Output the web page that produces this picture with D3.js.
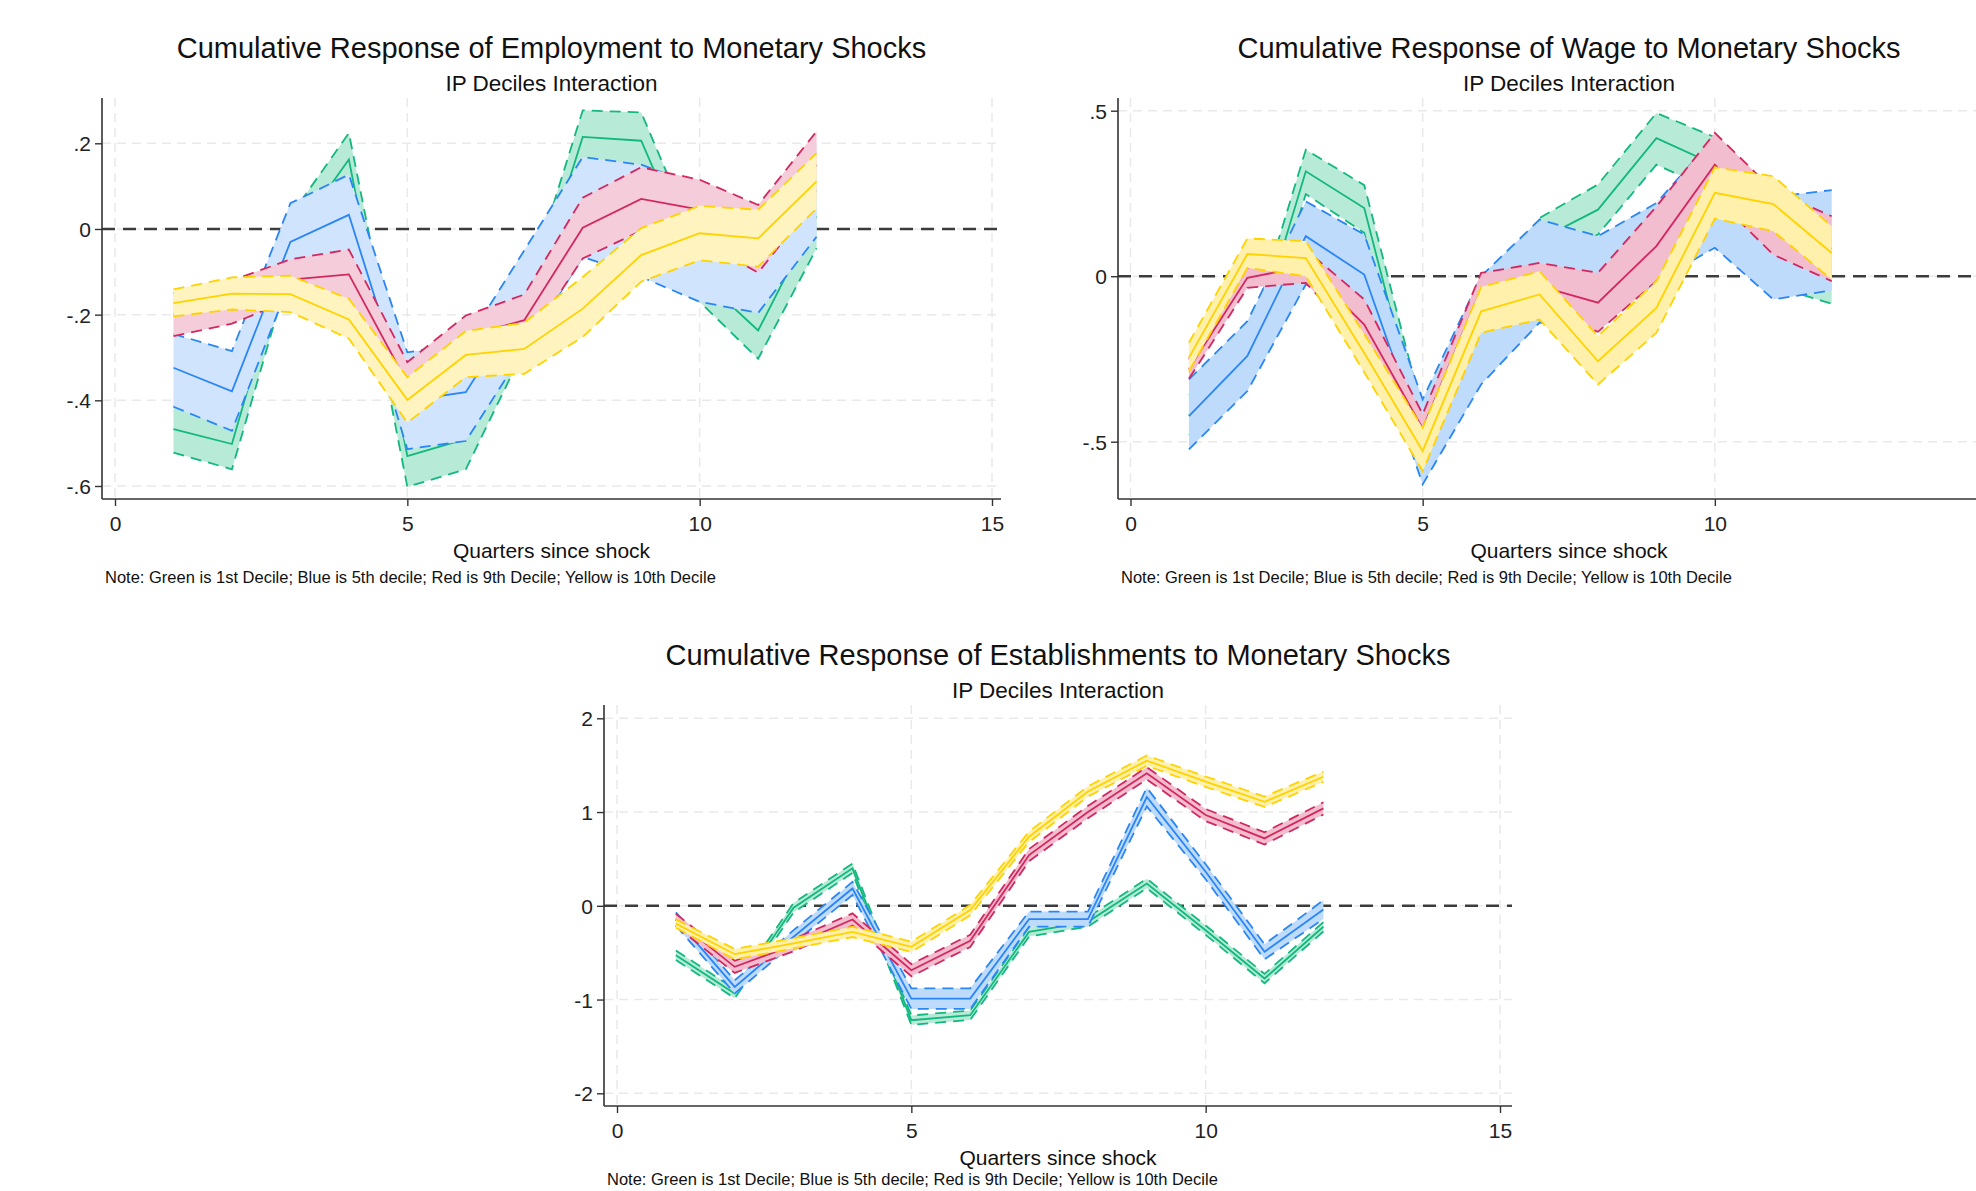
<!DOCTYPE html>
<html lang="en">
<head>
<meta charset="UTF-8">
<title>cumulative responses</title>
<script src="https://cdn.jsdelivr.net/npm/d3@7/dist/d3.min.js"></script>
<style>
	body { margin: 0; background: #fff; overflow: hidden; }
	svg { display: block; font-family: "Liberation Sans", Arial, sans-serif; }
	.grid { stroke: #e9e9e9; stroke-width: 1.5; stroke-dasharray: 9,6; }
	.zero { stroke: #3c3c3c; stroke-width: 2.4; stroke-dasharray: 13,8; }
	.axisline { stroke: #333; stroke-width: 1.6; }
	.tick line { stroke: #333; stroke-width: 1.4; }
	.tick text { font-size: 21px; fill: #222; }
	.title { font-size: 29px; fill: #111; text-anchor: middle; }
	.subtitle { font-size: 22.5px; fill: #111; text-anchor: middle; }
	.xlabel { font-size: 21px; fill: #111; text-anchor: middle; }
	.note { font-size: 16.5px; fill: #111; }
</style>
</head>
<body>
<svg id="fig" width="1976" height="1191"></svg>
<script>
var quarters = [1, 2, 3, 4, 5, 6, 7, 8, 9, 10, 11, 12];
var xTicks = [0, 5, 10, 15];

// Employment
var empTicks = [0.2, 0, -0.2, -0.4, -0.6];
var empLabels = ['.2', '0', '-.2', '-.4', '-.6'];
var empGreen   = [-0.467, -0.502, -0.03, 0.162, -0.530, -0.49, -0.22, 0.215, 0.206, -0.11, -0.237, 0.03];
var empGreenLo = [-0.522, -0.561, -0.09, 0.10, -0.602, -0.561, -0.28, 0.153, 0.14, -0.17, -0.303, -0.045];
var empGreenHi = [-0.412, -0.443, 0.03, 0.224, -0.458, -0.42, -0.16, 0.277, 0.272, -0.05, -0.171, 0.105];
var empBlue   = [-0.324, -0.379, -0.030, 0.033, -0.401, -0.381, -0.166, 0.05, 0.019, -0.035, -0.075, 0.09];
var empBlueLo = [-0.415, -0.471, -0.12, -0.06, -0.514, -0.495, -0.282, -0.065, -0.112, -0.170, -0.196, -0.018];
var empBlueHi = [-0.245, -0.285, 0.060, 0.127, -0.288, -0.267, -0.05, 0.168, 0.15, 0.10, 0.045, 0.2];
var empRed   = [-0.20, -0.17, -0.118, -0.106, -0.36, -0.25, -0.213, 0.003, 0.070, 0.045, -0.023, 0.15];
var empRedLo = [-0.25, -0.221, -0.165, -0.164, -0.41, -0.30, -0.273, -0.069, -0.004, -0.025, -0.102, 0.07];
var empRedHi = [-0.15, -0.12, -0.071, -0.048, -0.311, -0.202, -0.153, 0.073, 0.144, 0.115, 0.056, 0.228];
var empYellow   = [-0.173, -0.151, -0.152, -0.211, -0.399, -0.294, -0.280, -0.186, -0.061, -0.010, -0.022, 0.111];
var empYellowLo = [-0.204, -0.188, -0.194, -0.256, -0.452, -0.346, -0.338, -0.252, -0.123, -0.073, -0.088, 0.048];
var empYellowHi = [-0.141, -0.113, -0.109, -0.163, -0.346, -0.238, -0.219, -0.112, 0.002, 0.054, 0.045, 0.177];

// Wage
var wageTicks = [0.5, 0, -0.5];
var wageLabels = ['.5', '0', '-.5'];
var wageGreen   = [-0.42, -0.27, 0.317, 0.206, -0.48, -0.15, 0.11, 0.201, 0.417, 0.337, 0.07, 0.0];
var wageGreenLo = [-0.48, -0.33, 0.248, 0.131, -0.55, -0.22, 0.04, 0.126, 0.337, 0.257, -0.03, -0.083];
var wageGreenHi = [-0.36, -0.20, 0.382, 0.275, -0.41, -0.08, 0.176, 0.277, 0.493, 0.42, 0.17, 0.08];
var wageBlue   = [-0.423, -0.241, 0.121, 0.005, -0.498, -0.16, 0.015, -0.02, 0.10, 0.25, 0.085, 0.108];
var wageBlueLo = [-0.523, -0.347, -0.025, -0.106, -0.629, -0.327, -0.14, -0.156, -0.015, 0.086, -0.070, -0.043];
var wageBlueHi = [-0.312, -0.136, 0.226, 0.126, -0.372, 0.0, 0.171, 0.121, 0.221, 0.42, 0.24, 0.260];
var wageRed   = [-0.28, -0.005, 0.03, -0.146, -0.46, -0.04, -0.03, -0.080, 0.091, 0.337, 0.16, 0.083];
var wageRedLo = [-0.31, -0.035, -0.02, -0.21, -0.50, -0.09, -0.10, -0.168, -0.015, 0.24, 0.065, -0.015];
var wageRedHi = [-0.25, 0.025, 0.08, -0.07, -0.417, 0.010, 0.04, 0.010, 0.21, 0.433, 0.26, 0.181];
var wageYellow   = [-0.246, 0.067, 0.055, -0.232, -0.528, -0.106, -0.055, -0.257, -0.096, 0.252, 0.218, 0.070];
var wageYellowLo = [-0.287, 0.025, 0.0, -0.29, -0.589, -0.171, -0.131, -0.327, -0.171, 0.174, 0.136, -0.010];
var wageYellowHi = [-0.201, 0.114, 0.106, -0.175, -0.458, -0.033, 0.015, -0.181, -0.015, 0.329, 0.302, 0.151];

// Establishments
var estTicks = [2, 1, 0, -1, -2];
var estLabels = ['2', '1', '0', '-1', '-2'];
var estGreen   = [-0.527, -0.936, -0.02, 0.40, -1.22, -1.167, -0.278, -0.171, 0.238, -0.26, -0.776, -0.224];
var estGreenLo = [-0.577, -0.986, -0.07, 0.35, -1.27, -1.217, -0.328, -0.221, 0.188, -0.31, -0.826, -0.274];
var estGreenHi = [-0.477, -0.886, 0.03, 0.45, -1.17, -1.117, -0.228, -0.121, 0.288, -0.21, -0.726, -0.174];
var estBlue   = [-0.14, -0.865, -0.33, 0.185, -0.99, -0.99, -0.142, -0.142, 1.16, 0.363, -0.491, -0.04];
var estBlueLo = [-0.21, -0.935, -0.40, 0.115, -1.10, -1.10, -0.222, -0.222, 1.06, 0.283, -0.571, -0.14];
var estBlueHi = [-0.07, -0.795, -0.26, 0.255, -0.88, -0.88, -0.062, -0.062, 1.26, 0.443, -0.411, 0.06];
var estRed   = [-0.15, -0.651, -0.42, -0.146, -0.687, -0.374, 0.541, 1.0, 1.413, 0.968, 0.719, 1.039];
var estRedLo = [-0.215, -0.716, -0.485, -0.211, -0.752, -0.439, 0.476, 0.935, 1.348, 0.903, 0.654, 0.974];
var estRedHi = [-0.085, -0.586, -0.355, -0.081, -0.622, -0.309, 0.606, 1.065, 1.478, 1.033, 0.784, 1.104];
var estYellow   = [-0.19, -0.516, -0.40, -0.278, -0.438, -0.046, 0.737, 1.22, 1.548, 1.324, 1.11, 1.377];
var estYellowLo = [-0.235, -0.571, -0.455, -0.333, -0.493, -0.101, 0.682, 1.165, 1.493, 1.269, 1.055, 1.322];
var estYellowHi = [-0.145, -0.461, -0.345, -0.223, -0.383, 0.009, 0.792, 1.275, 1.603, 1.379, 1.165, 1.432];

var note = 'Note: Green is 1st Decile; Blue is 5th decile; Red is 9th Decile; Yellow is 10th Decile';

var green = '#12b87e', blue = '#2a86f5', red = '#d3275f', yellow = '#ffd200';

var W = 1976;
var svg = d3.select('#fig');

function panel(o) {
	var g = svg.append('g');
	var x = d3.scaleLinear().domain([0, 15]).range(o.xr);
	var y = d3.scaleLinear().domain(o.yd).range(o.yr);
	// ticks that fall past the page edge are not drawn (wage panel)
	var xShown = xTicks.filter(function (d) { return x(d) < W; });

	// grid
	g.selectAll('.gy').data(o.ticks).enter().append('line')
		.attr('class', 'grid')
		.attr('x1', o.left).attr('x2', o.right)
		.attr('y1', function (d) { return y(d); }).attr('y2', function (d) { return y(d); });
	g.selectAll('.gx').data(xShown).enter().append('line')
		.attr('class', 'grid')
		.attr('x1', function (d) { return x(d); }).attr('x2', function (d) { return x(d); })
		.attr('y1', o.top).attr('y2', o.bottom);

	g.append('line').attr('class', 'zero')
		.attr('x1', o.left).attr('x2', o.right)
		.attr('y1', y(0)).attr('y2', y(0));

	o.series.forEach(function (s) {
		var fill = d3.interpolateRgb('#ffffff', s.color)(s.alpha);
		var area = d3.area()
			.x(function (d, i) { return x(quarters[i]); })
			.y0(function (d, i) { return y(s.lo[i]); })
			.y1(function (d, i) { return y(s.hi[i]); });
		var line = d3.line()
			.x(function (d, i) { return x(quarters[i]); })
			.y(function (d) { return y(d); });
		g.append('path').datum(s.c).attr('d', area).style('fill', fill);
		[s.lo, s.hi].forEach(function (b) {
			g.append('path').datum(b).attr('d', line)
				.style('fill', 'none').style('stroke', s.color)
				.style('stroke-width', 1.8).style('stroke-dasharray', '11,7');
		});
		g.append('path').datum(s.c).attr('d', line)
			.style('fill', 'none').style('stroke', s.color).style('stroke-width', 1.8);
	});

	// axes
	g.append('line').attr('class', 'axisline')
		.attr('x1', o.left).attr('x2', o.left).attr('y1', o.top).attr('y2', o.bottom);
	g.append('line').attr('class', 'axisline')
		.attr('x1', o.left).attr('x2', o.right).attr('y1', o.bottom).attr('y2', o.bottom);

	var ya = g.append('g').attr('transform', 'translate(' + o.left + ',0)')
		.call(d3.axisLeft(y).tickValues(o.ticks)
			.tickFormat(function (d, i) { return o.labels[i]; })
			.tickSize(7).tickPadding(4));
	ya.select('.domain').remove();
	ya.selectAll('text').attr('dy', '0.36em');

	var xa = g.append('g').attr('transform', 'translate(0,' + o.bottom + ')')
		.call(d3.axisBottom(x).tickValues(xShown).tickFormat(d3.format('d'))
			.tickSize(7).tickPadding(10));
	xa.select('.domain').remove();

	var cx = (o.left + o.plotRight) / 2;
	g.append('text').attr('class', 'title').attr('x', cx).attr('y', o.top - 40).text(o.title);
	g.append('text').attr('class', 'subtitle').attr('x', cx).attr('y', o.top - 7).text('IP Deciles Interaction');
	g.append('text').attr('class', 'xlabel').attr('x', cx).attr('y', o.bottom + 59).text('Quarters since shock');
	g.append('text').attr('class', 'note').attr('x', o.left + 3).attr('y', o.bottom + o.noteDy).text(note);
}

function series(c, lo, hi, color, alpha) {
	return { c: c, lo: lo, hi: hi, color: color, alpha: alpha };
}

panel({
	title: 'Cumulative Response of Employment to Monetary Shocks',
	left: 102, right: 1001, plotRight: 1001, top: 98, bottom: 499, noteDy: 84,
	xr: [115, 992], yd: [-0.6, 0.2], yr: [486, 143.3],
	ticks: empTicks, labels: empLabels,
	series: [
		series(empGreen, empGreenLo, empGreenHi, green, 0.3),
		series(empBlue, empBlueLo, empBlueHi, blue, 0.22),
		series(empRed, empRedLo, empRedHi, red, 0.23),
		series(empYellow, empYellowLo, empYellowHi, yellow, 0.25)
	]
});

panel({
	title: 'Cumulative Response of Wage to Monetary Shocks',
	left: 1118, right: 1976, plotRight: 2020, top: 98, bottom: 499, noteDy: 84,
	xr: [1130.5, 2007], yd: [-0.5, 0.5], yr: [441.7, 110.7],
	ticks: wageTicks, labels: wageLabels,
	series: [
		series(wageGreen, wageGreenLo, wageGreenHi, green, 0.3),
		series(wageBlue, wageBlueLo, wageBlueHi, blue, 0.3),
		series(wageRed, wageRedLo, wageRedHi, red, 0.3),
		series(wageYellow, wageYellowLo, wageYellowHi, yellow, 0.33)
	]
});

panel({
	title: 'Cumulative Response of Establishments to Monetary Shocks',
	left: 604, right: 1512, plotRight: 1512, top: 705, bottom: 1106, noteDy: 79,
	xr: [617, 1500], yd: [-2, 2], yr: [1093.3, 718.3],
	ticks: estTicks, labels: estLabels,
	series: [
		series(estGreen, estGreenLo, estGreenHi, green, 0.3),
		series(estBlue, estBlueLo, estBlueHi, blue, 0.3),
		series(estRed, estRedLo, estRedHi, red, 0.3),
		series(estYellow, estYellowLo, estYellowHi, yellow, 0.33)
	]
});
</script>
</body>
</html>
